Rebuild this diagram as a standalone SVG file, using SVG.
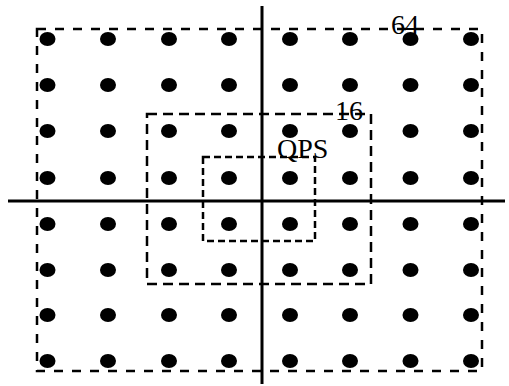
<svg xmlns="http://www.w3.org/2000/svg" width="509" height="386" viewBox="0 0 509 386">
<style>
.box{fill:none;stroke:#000;stroke-width:2.5}
.b64{stroke-dasharray:9 9}
.b16{stroke-dasharray:10 6}
.bq{stroke-dasharray:7 4}
.axis{stroke:#000;stroke-width:3;fill:none}
.dot{fill:#000}
.lbl{font-family:"Liberation Serif",serif;font-size:28px;fill:#000}
</style>
<defs>
<ellipse id="d" cx="0" cy="0" rx="8" ry="7"/>
</defs>
<g id="connectors">
<line class="axis" x1="8" y1="201" x2="505" y2="201"/>
<line class="axis" x1="262" y1="6" x2="262" y2="384"/>
</g>
<g id="box64">
<rect class="box b64" x="37" y="29" width="445" height="342"/>
<text class="lbl" x="391" y="33.5">64</text>
</g>
<g id="box16">
<rect class="box b16" x="147" y="114" width="224" height="170"/>
<text class="lbl" x="335" y="119.5">16</text>
</g>
<g id="boxQPS">
<rect class="box bq" x="203" y="157" width="112" height="84"/>
<text class="lbl" x="277" y="158">QPS</text>
</g>
<g id="dots" class="dot">
<g transform="translate(0,39)"><use href="#d" x="47.5"/><use href="#d" x="108"/><use href="#d" x="169"/><use href="#d" x="229"/><use href="#d" x="290"/><use href="#d" x="350"/><use href="#d" x="410.5"/><use href="#d" x="471"/></g>
<g transform="translate(0,85)"><use href="#d" x="47.5"/><use href="#d" x="108"/><use href="#d" x="169"/><use href="#d" x="229"/><use href="#d" x="290"/><use href="#d" x="350"/><use href="#d" x="410.5"/><use href="#d" x="471"/></g>
<g transform="translate(0,131)"><use href="#d" x="47.5"/><use href="#d" x="108"/><use href="#d" x="169"/><use href="#d" x="229"/><use href="#d" x="290"/><use href="#d" x="350"/><use href="#d" x="410.5"/><use href="#d" x="471"/></g>
<g transform="translate(0,178)"><use href="#d" x="47.5"/><use href="#d" x="108"/><use href="#d" x="169"/><use href="#d" x="229"/><use href="#d" x="290"/><use href="#d" x="350"/><use href="#d" x="410.5"/><use href="#d" x="471"/></g>
<g transform="translate(0,224)"><use href="#d" x="47.5"/><use href="#d" x="108"/><use href="#d" x="169"/><use href="#d" x="229"/><use href="#d" x="290"/><use href="#d" x="350"/><use href="#d" x="410.5"/><use href="#d" x="471"/></g>
<g transform="translate(0,270)"><use href="#d" x="47.5"/><use href="#d" x="108"/><use href="#d" x="169"/><use href="#d" x="229"/><use href="#d" x="290"/><use href="#d" x="350"/><use href="#d" x="410.5"/><use href="#d" x="471"/></g>
<g transform="translate(0,315)"><use href="#d" x="47.5"/><use href="#d" x="108"/><use href="#d" x="169"/><use href="#d" x="229"/><use href="#d" x="290"/><use href="#d" x="350"/><use href="#d" x="410.5"/><use href="#d" x="471"/></g>
<g transform="translate(0,361)"><use href="#d" x="47.5"/><use href="#d" x="108"/><use href="#d" x="169"/><use href="#d" x="229"/><use href="#d" x="290"/><use href="#d" x="350"/><use href="#d" x="410.5"/><use href="#d" x="471"/></g>
</g>
</svg>
